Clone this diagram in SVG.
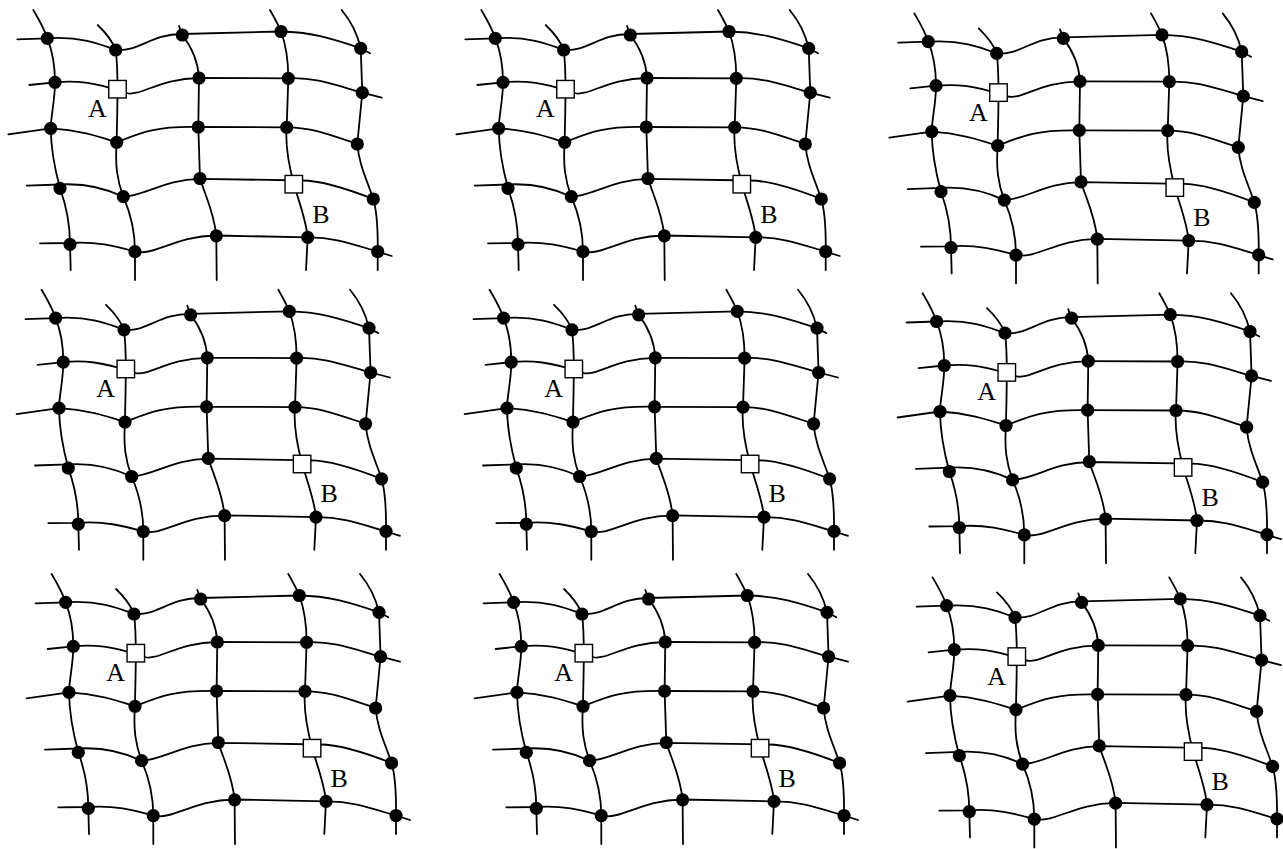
<svg xmlns="http://www.w3.org/2000/svg" width="1283" height="849" viewBox="0 0 1283 849">
<style>
.ln path{fill:none;stroke:#000;stroke-width:1.8;stroke-linecap:round;stroke-linejoin:round}
.dot{fill:#000}
.sq{fill:#fff;stroke:#000;stroke-width:1.4}
.lbl{font-family:"Liberation Serif","Times New Roman",serif;font-size:26px;fill:#000;text-anchor:middle}
</style>
<rect width="1283" height="849" fill="#fff"/>
<g id="p1" transform="translate(0,0)">
<g id="p1-connectors" class="ln">
<path d="M17.3,39.3 L47.3,38.3 C80,36 100,44 115.7,50 C140,52 150,34 182.3,34 L281,31.5 C310,32 330,38 360.7,48.3 L370,53.3"/>
<path d="M29.3,85 L55,82.3 C80,80 95,84 108.5,87.5 L126.5,93 C140,97 160,78 199,78 L288.3,78.3 C315,77 335,85 362.3,92.7 L381.7,97.7"/>
<path d="M8.3,134.3 L50.7,128.3 C80,130 100,137 116.7,142.3 C140,133 155,126 198.3,127 L286.7,127.3 C310,127 330,135 357.3,144"/>
<path d="M26.7,185.7 L60,184.5 C85,183 105,188 123.3,196.7 C145,196 165,179 200,178.8 L302.5,180.5 C320,180.5 345,188 373.3,199"/>
<path d="M40,243.3 L70,243 C95,241 115,246 135,251.7 C155,256 175,236 216,235.5 L307.7,237.3 C335,237 355,245 377.7,251.7 L391.7,256"/>
<path d="M33.3,10 C38,18 44,28 47.3,38.3 C52,50 55,62 55,82.3 C55,100 51,115 50.7,128.3 C51,150 55,170 60,188.3 C66,205 70,225 70,244.3 L70.7,270"/>
<path d="M97.7,25 C105,32 112,40 115.7,50 C117,60 117.5,70 117.5,89 C117.5,115 116.7,130 116.7,142.3 C115,165 117,180 123.3,196.7 C130,212 135,230 135,251.7 L135,280"/>
<path d="M179,26 L182.3,35 C190,45 198,60 199,78 L198.3,127 L200,178.5 C205,195 214,212 216.3,235.8 L216.7,280"/>
<path d="M270,10 C274,17 278,24 281,31.5 C286,45 288.3,60 288.3,78.3 L286.7,127.3 C285,145 288,162 293.8,184 C300,205 306,220 307.7,237.3 L306,270"/>
<path d="M341.7,10 C350,20 357,32 360.7,48.3 L362.3,92.7 L357.3,144 C359,165 367,180 373.3,199 C377,212 378,230 377.7,251.5 L377.7,270"/>
</g>
<g id="p1-n11"><circle class="dot" cx="47.3" cy="38.3" r="6.6"/></g>
<g id="p1-n12"><circle class="dot" cx="115.7" cy="50" r="6.6"/></g>
<g id="p1-n13"><circle class="dot" cx="182.3" cy="35" r="6.6"/></g>
<g id="p1-n14"><circle class="dot" cx="281" cy="31.5" r="6.6"/></g>
<g id="p1-n15"><circle class="dot" cx="360.7" cy="48.3" r="6.6"/></g>
<g id="p1-n21"><circle class="dot" cx="55" cy="82.3" r="6.6"/></g>
<g id="p1-A"><rect class="sq" x="108.75" y="80.45" width="17.5" height="17.5"/><text class="lbl" x="97.3" y="117.3">A</text></g>
<g id="p1-n23"><circle class="dot" cx="199" cy="78" r="6.6"/></g>
<g id="p1-n24"><circle class="dot" cx="288.3" cy="78.3" r="6.6"/></g>
<g id="p1-n25"><circle class="dot" cx="362.3" cy="92.7" r="6.6"/></g>
<g id="p1-n31"><circle class="dot" cx="50.7" cy="128.3" r="6.6"/></g>
<g id="p1-n32"><circle class="dot" cx="116.7" cy="142.3" r="6.6"/></g>
<g id="p1-n33"><circle class="dot" cx="198.3" cy="127" r="6.6"/></g>
<g id="p1-n34"><circle class="dot" cx="286.7" cy="127.3" r="6.6"/></g>
<g id="p1-n35"><circle class="dot" cx="357.3" cy="144" r="6.6"/></g>
<g id="p1-n41"><circle class="dot" cx="60" cy="188.3" r="6.6"/></g>
<g id="p1-n42"><circle class="dot" cx="123.3" cy="196.7" r="6.6"/></g>
<g id="p1-n43"><circle class="dot" cx="200" cy="178.5" r="6.6"/></g>
<g id="p1-B"><rect class="sq" x="285.05" y="175.45" width="17.5" height="17.5"/><text class="lbl" x="320.8" y="222.7">B</text></g>
<g id="p1-n45"><circle class="dot" cx="373.3" cy="199" r="6.6"/></g>
<g id="p1-n51"><circle class="dot" cx="70" cy="244.3" r="6.6"/></g>
<g id="p1-n52"><circle class="dot" cx="135" cy="251.7" r="6.6"/></g>
<g id="p1-n53"><circle class="dot" cx="216.3" cy="235.8" r="6.6"/></g>
<g id="p1-n54"><circle class="dot" cx="307.7" cy="237.3" r="6.6"/></g>
<g id="p1-n55"><circle class="dot" cx="377.7" cy="251.5" r="6.6"/></g>
</g>
<g id="p2" transform="translate(448,0)">
<g id="p2-connectors" class="ln">
<path d="M17.3,39.3 L47.3,38.3 C80,36 100,44 115.7,50 C140,52 150,34 182.3,34 L281,31.5 C310,32 330,38 360.7,48.3 L370,53.3"/>
<path d="M29.3,85 L55,82.3 C80,80 95,84 108.5,87.5 L126.5,93 C140,97 160,78 199,78 L288.3,78.3 C315,77 335,85 362.3,92.7 L381.7,97.7"/>
<path d="M8.3,134.3 L50.7,128.3 C80,130 100,137 116.7,142.3 C140,133 155,126 198.3,127 L286.7,127.3 C310,127 330,135 357.3,144"/>
<path d="M26.7,185.7 L60,184.5 C85,183 105,188 123.3,196.7 C145,196 165,179 200,178.8 L302.5,180.5 C320,180.5 345,188 373.3,199"/>
<path d="M40,243.3 L70,243 C95,241 115,246 135,251.7 C155,256 175,236 216,235.5 L307.7,237.3 C335,237 355,245 377.7,251.7 L391.7,256"/>
<path d="M33.3,10 C38,18 44,28 47.3,38.3 C52,50 55,62 55,82.3 C55,100 51,115 50.7,128.3 C51,150 55,170 60,188.3 C66,205 70,225 70,244.3 L70.7,270"/>
<path d="M97.7,25 C105,32 112,40 115.7,50 C117,60 117.5,70 117.5,89 C117.5,115 116.7,130 116.7,142.3 C115,165 117,180 123.3,196.7 C130,212 135,230 135,251.7 L135,280"/>
<path d="M179,26 L182.3,35 C190,45 198,60 199,78 L198.3,127 L200,178.5 C205,195 214,212 216.3,235.8 L216.7,280"/>
<path d="M270,10 C274,17 278,24 281,31.5 C286,45 288.3,60 288.3,78.3 L286.7,127.3 C285,145 288,162 293.8,184 C300,205 306,220 307.7,237.3 L306,270"/>
<path d="M341.7,10 C350,20 357,32 360.7,48.3 L362.3,92.7 L357.3,144 C359,165 367,180 373.3,199 C377,212 378,230 377.7,251.5 L377.7,270"/>
</g>
<g id="p2-n11"><circle class="dot" cx="47.3" cy="38.3" r="6.6"/></g>
<g id="p2-n12"><circle class="dot" cx="115.7" cy="50" r="6.6"/></g>
<g id="p2-n13"><circle class="dot" cx="182.3" cy="35" r="6.6"/></g>
<g id="p2-n14"><circle class="dot" cx="281" cy="31.5" r="6.6"/></g>
<g id="p2-n15"><circle class="dot" cx="360.7" cy="48.3" r="6.6"/></g>
<g id="p2-n21"><circle class="dot" cx="55" cy="82.3" r="6.6"/></g>
<g id="p2-A"><rect class="sq" x="108.75" y="80.45" width="17.5" height="17.5"/><text class="lbl" x="97.3" y="117.3">A</text></g>
<g id="p2-n23"><circle class="dot" cx="199" cy="78" r="6.6"/></g>
<g id="p2-n24"><circle class="dot" cx="288.3" cy="78.3" r="6.6"/></g>
<g id="p2-n25"><circle class="dot" cx="362.3" cy="92.7" r="6.6"/></g>
<g id="p2-n31"><circle class="dot" cx="50.7" cy="128.3" r="6.6"/></g>
<g id="p2-n32"><circle class="dot" cx="116.7" cy="142.3" r="6.6"/></g>
<g id="p2-n33"><circle class="dot" cx="198.3" cy="127" r="6.6"/></g>
<g id="p2-n34"><circle class="dot" cx="286.7" cy="127.3" r="6.6"/></g>
<g id="p2-n35"><circle class="dot" cx="357.3" cy="144" r="6.6"/></g>
<g id="p2-n41"><circle class="dot" cx="60" cy="188.3" r="6.6"/></g>
<g id="p2-n42"><circle class="dot" cx="123.3" cy="196.7" r="6.6"/></g>
<g id="p2-n43"><circle class="dot" cx="200" cy="178.5" r="6.6"/></g>
<g id="p2-B"><rect class="sq" x="285.05" y="175.45" width="17.5" height="17.5"/><text class="lbl" x="320.8" y="222.7">B</text></g>
<g id="p2-n45"><circle class="dot" cx="373.3" cy="199" r="6.6"/></g>
<g id="p2-n51"><circle class="dot" cx="70" cy="244.3" r="6.6"/></g>
<g id="p2-n52"><circle class="dot" cx="135" cy="251.7" r="6.6"/></g>
<g id="p2-n53"><circle class="dot" cx="216.3" cy="235.8" r="6.6"/></g>
<g id="p2-n54"><circle class="dot" cx="307.7" cy="237.3" r="6.6"/></g>
<g id="p2-n55"><circle class="dot" cx="377.7" cy="251.5" r="6.6"/></g>
</g>
<g id="p3" transform="translate(881,3.4)">
<g id="p3-connectors" class="ln">
<path d="M17.3,39.3 L47.3,38.3 C80,36 100,44 115.7,50 C140,52 150,34 182.3,34 L281,31.5 C310,32 330,38 360.7,48.3 L370,53.3"/>
<path d="M29.3,85 L55,82.3 C80,80 95,84 108.5,87.5 L126.5,93 C140,97 160,78 199,78 L288.3,78.3 C315,77 335,85 362.3,92.7 L381.7,97.7"/>
<path d="M8.3,134.3 L50.7,128.3 C80,130 100,137 116.7,142.3 C140,133 155,126 198.3,127 L286.7,127.3 C310,127 330,135 357.3,144"/>
<path d="M26.7,185.7 L60,184.5 C85,183 105,188 123.3,196.7 C145,196 165,179 200,178.8 L302.5,180.5 C320,180.5 345,188 373.3,199"/>
<path d="M40,243.3 L70,243 C95,241 115,246 135,251.7 C155,256 175,236 216,235.5 L307.7,237.3 C335,237 355,245 377.7,251.7 L391.7,256"/>
<path d="M33.3,10 C38,18 44,28 47.3,38.3 C52,50 55,62 55,82.3 C55,100 51,115 50.7,128.3 C51,150 55,170 60,188.3 C66,205 70,225 70,244.3 L70.7,270"/>
<path d="M97.7,25 C105,32 112,40 115.7,50 C117,60 117.5,70 117.5,89 C117.5,115 116.7,130 116.7,142.3 C115,165 117,180 123.3,196.7 C130,212 135,230 135,251.7 L135,280"/>
<path d="M179,26 L182.3,35 C190,45 198,60 199,78 L198.3,127 L200,178.5 C205,195 214,212 216.3,235.8 L216.7,280"/>
<path d="M270,10 C274,17 278,24 281,31.5 C286,45 288.3,60 288.3,78.3 L286.7,127.3 C285,145 288,162 293.8,184 C300,205 306,220 307.7,237.3 L306,270"/>
<path d="M341.7,10 C350,20 357,32 360.7,48.3 L362.3,92.7 L357.3,144 C359,165 367,180 373.3,199 C377,212 378,230 377.7,251.5 L377.7,270"/>
</g>
<g id="p3-n11"><circle class="dot" cx="47.3" cy="38.3" r="6.6"/></g>
<g id="p3-n12"><circle class="dot" cx="115.7" cy="50" r="6.6"/></g>
<g id="p3-n13"><circle class="dot" cx="182.3" cy="35" r="6.6"/></g>
<g id="p3-n14"><circle class="dot" cx="281" cy="31.5" r="6.6"/></g>
<g id="p3-n15"><circle class="dot" cx="360.7" cy="48.3" r="6.6"/></g>
<g id="p3-n21"><circle class="dot" cx="55" cy="82.3" r="6.6"/></g>
<g id="p3-A"><rect class="sq" x="108.75" y="80.45" width="17.5" height="17.5"/><text class="lbl" x="97.3" y="117.3">A</text></g>
<g id="p3-n23"><circle class="dot" cx="199" cy="78" r="6.6"/></g>
<g id="p3-n24"><circle class="dot" cx="288.3" cy="78.3" r="6.6"/></g>
<g id="p3-n25"><circle class="dot" cx="362.3" cy="92.7" r="6.6"/></g>
<g id="p3-n31"><circle class="dot" cx="50.7" cy="128.3" r="6.6"/></g>
<g id="p3-n32"><circle class="dot" cx="116.7" cy="142.3" r="6.6"/></g>
<g id="p3-n33"><circle class="dot" cx="198.3" cy="127" r="6.6"/></g>
<g id="p3-n34"><circle class="dot" cx="286.7" cy="127.3" r="6.6"/></g>
<g id="p3-n35"><circle class="dot" cx="357.3" cy="144" r="6.6"/></g>
<g id="p3-n41"><circle class="dot" cx="60" cy="188.3" r="6.6"/></g>
<g id="p3-n42"><circle class="dot" cx="123.3" cy="196.7" r="6.6"/></g>
<g id="p3-n43"><circle class="dot" cx="200" cy="178.5" r="6.6"/></g>
<g id="p3-B"><rect class="sq" x="285.05" y="175.45" width="17.5" height="17.5"/><text class="lbl" x="320.8" y="222.7">B</text></g>
<g id="p3-n45"><circle class="dot" cx="373.3" cy="199" r="6.6"/></g>
<g id="p3-n51"><circle class="dot" cx="70" cy="244.3" r="6.6"/></g>
<g id="p3-n52"><circle class="dot" cx="135" cy="251.7" r="6.6"/></g>
<g id="p3-n53"><circle class="dot" cx="216.3" cy="235.8" r="6.6"/></g>
<g id="p3-n54"><circle class="dot" cx="307.7" cy="237.3" r="6.6"/></g>
<g id="p3-n55"><circle class="dot" cx="377.7" cy="251.5" r="6.6"/></g>
</g>
<g id="p4" transform="translate(8.3,279.8)">
<g id="p4-connectors" class="ln">
<path d="M17.3,39.3 L47.3,38.3 C80,36 100,44 115.7,50 C140,52 150,34 182.3,34 L281,31.5 C310,32 330,38 360.7,48.3 L370,53.3"/>
<path d="M29.3,85 L55,82.3 C80,80 95,84 108.5,87.5 L126.5,93 C140,97 160,78 199,78 L288.3,78.3 C315,77 335,85 362.3,92.7 L381.7,97.7"/>
<path d="M8.3,134.3 L50.7,128.3 C80,130 100,137 116.7,142.3 C140,133 155,126 198.3,127 L286.7,127.3 C310,127 330,135 357.3,144"/>
<path d="M26.7,185.7 L60,184.5 C85,183 105,188 123.3,196.7 C145,196 165,179 200,178.8 L302.5,180.5 C320,180.5 345,188 373.3,199"/>
<path d="M40,243.3 L70,243 C95,241 115,246 135,251.7 C155,256 175,236 216,235.5 L307.7,237.3 C335,237 355,245 377.7,251.7 L391.7,256"/>
<path d="M33.3,10 C38,18 44,28 47.3,38.3 C52,50 55,62 55,82.3 C55,100 51,115 50.7,128.3 C51,150 55,170 60,188.3 C66,205 70,225 70,244.3 L70.7,270"/>
<path d="M97.7,25 C105,32 112,40 115.7,50 C117,60 117.5,70 117.5,89 C117.5,115 116.7,130 116.7,142.3 C115,165 117,180 123.3,196.7 C130,212 135,230 135,251.7 L135,280"/>
<path d="M179,26 L182.3,35 C190,45 198,60 199,78 L198.3,127 L200,178.5 C205,195 214,212 216.3,235.8 L216.7,280"/>
<path d="M270,10 C274,17 278,24 281,31.5 C286,45 288.3,60 288.3,78.3 L286.7,127.3 C285,145 288,162 293.8,184 C300,205 306,220 307.7,237.3 L306,270"/>
<path d="M341.7,10 C350,20 357,32 360.7,48.3 L362.3,92.7 L357.3,144 C359,165 367,180 373.3,199 C377,212 378,230 377.7,251.5 L377.7,270"/>
</g>
<g id="p4-n11"><circle class="dot" cx="47.3" cy="38.3" r="6.6"/></g>
<g id="p4-n12"><circle class="dot" cx="115.7" cy="50" r="6.6"/></g>
<g id="p4-n13"><circle class="dot" cx="182.3" cy="35" r="6.6"/></g>
<g id="p4-n14"><circle class="dot" cx="281" cy="31.5" r="6.6"/></g>
<g id="p4-n15"><circle class="dot" cx="360.7" cy="48.3" r="6.6"/></g>
<g id="p4-n21"><circle class="dot" cx="55" cy="82.3" r="6.6"/></g>
<g id="p4-A"><rect class="sq" x="108.75" y="80.45" width="17.5" height="17.5"/><text class="lbl" x="97.3" y="117.3">A</text></g>
<g id="p4-n23"><circle class="dot" cx="199" cy="78" r="6.6"/></g>
<g id="p4-n24"><circle class="dot" cx="288.3" cy="78.3" r="6.6"/></g>
<g id="p4-n25"><circle class="dot" cx="362.3" cy="92.7" r="6.6"/></g>
<g id="p4-n31"><circle class="dot" cx="50.7" cy="128.3" r="6.6"/></g>
<g id="p4-n32"><circle class="dot" cx="116.7" cy="142.3" r="6.6"/></g>
<g id="p4-n33"><circle class="dot" cx="198.3" cy="127" r="6.6"/></g>
<g id="p4-n34"><circle class="dot" cx="286.7" cy="127.3" r="6.6"/></g>
<g id="p4-n35"><circle class="dot" cx="357.3" cy="144" r="6.6"/></g>
<g id="p4-n41"><circle class="dot" cx="60" cy="188.3" r="6.6"/></g>
<g id="p4-n42"><circle class="dot" cx="123.3" cy="196.7" r="6.6"/></g>
<g id="p4-n43"><circle class="dot" cx="200" cy="178.5" r="6.6"/></g>
<g id="p4-B"><rect class="sq" x="285.05" y="175.45" width="17.5" height="17.5"/><text class="lbl" x="320.8" y="222.7">B</text></g>
<g id="p4-n45"><circle class="dot" cx="373.3" cy="199" r="6.6"/></g>
<g id="p4-n51"><circle class="dot" cx="70" cy="244.3" r="6.6"/></g>
<g id="p4-n52"><circle class="dot" cx="135" cy="251.7" r="6.6"/></g>
<g id="p4-n53"><circle class="dot" cx="216.3" cy="235.8" r="6.6"/></g>
<g id="p4-n54"><circle class="dot" cx="307.7" cy="237.3" r="6.6"/></g>
<g id="p4-n55"><circle class="dot" cx="377.7" cy="251.5" r="6.6"/></g>
</g>
<g id="p5" transform="translate(456.3,279.8)">
<g id="p5-connectors" class="ln">
<path d="M17.3,39.3 L47.3,38.3 C80,36 100,44 115.7,50 C140,52 150,34 182.3,34 L281,31.5 C310,32 330,38 360.7,48.3 L370,53.3"/>
<path d="M29.3,85 L55,82.3 C80,80 95,84 108.5,87.5 L126.5,93 C140,97 160,78 199,78 L288.3,78.3 C315,77 335,85 362.3,92.7 L381.7,97.7"/>
<path d="M8.3,134.3 L50.7,128.3 C80,130 100,137 116.7,142.3 C140,133 155,126 198.3,127 L286.7,127.3 C310,127 330,135 357.3,144"/>
<path d="M26.7,185.7 L60,184.5 C85,183 105,188 123.3,196.7 C145,196 165,179 200,178.8 L302.5,180.5 C320,180.5 345,188 373.3,199"/>
<path d="M40,243.3 L70,243 C95,241 115,246 135,251.7 C155,256 175,236 216,235.5 L307.7,237.3 C335,237 355,245 377.7,251.7 L391.7,256"/>
<path d="M33.3,10 C38,18 44,28 47.3,38.3 C52,50 55,62 55,82.3 C55,100 51,115 50.7,128.3 C51,150 55,170 60,188.3 C66,205 70,225 70,244.3 L70.7,270"/>
<path d="M97.7,25 C105,32 112,40 115.7,50 C117,60 117.5,70 117.5,89 C117.5,115 116.7,130 116.7,142.3 C115,165 117,180 123.3,196.7 C130,212 135,230 135,251.7 L135,280"/>
<path d="M179,26 L182.3,35 C190,45 198,60 199,78 L198.3,127 L200,178.5 C205,195 214,212 216.3,235.8 L216.7,280"/>
<path d="M270,10 C274,17 278,24 281,31.5 C286,45 288.3,60 288.3,78.3 L286.7,127.3 C285,145 288,162 293.8,184 C300,205 306,220 307.7,237.3 L306,270"/>
<path d="M341.7,10 C350,20 357,32 360.7,48.3 L362.3,92.7 L357.3,144 C359,165 367,180 373.3,199 C377,212 378,230 377.7,251.5 L377.7,270"/>
</g>
<g id="p5-n11"><circle class="dot" cx="47.3" cy="38.3" r="6.6"/></g>
<g id="p5-n12"><circle class="dot" cx="115.7" cy="50" r="6.6"/></g>
<g id="p5-n13"><circle class="dot" cx="182.3" cy="35" r="6.6"/></g>
<g id="p5-n14"><circle class="dot" cx="281" cy="31.5" r="6.6"/></g>
<g id="p5-n15"><circle class="dot" cx="360.7" cy="48.3" r="6.6"/></g>
<g id="p5-n21"><circle class="dot" cx="55" cy="82.3" r="6.6"/></g>
<g id="p5-A"><rect class="sq" x="108.75" y="80.45" width="17.5" height="17.5"/><text class="lbl" x="97.3" y="117.3">A</text></g>
<g id="p5-n23"><circle class="dot" cx="199" cy="78" r="6.6"/></g>
<g id="p5-n24"><circle class="dot" cx="288.3" cy="78.3" r="6.6"/></g>
<g id="p5-n25"><circle class="dot" cx="362.3" cy="92.7" r="6.6"/></g>
<g id="p5-n31"><circle class="dot" cx="50.7" cy="128.3" r="6.6"/></g>
<g id="p5-n32"><circle class="dot" cx="116.7" cy="142.3" r="6.6"/></g>
<g id="p5-n33"><circle class="dot" cx="198.3" cy="127" r="6.6"/></g>
<g id="p5-n34"><circle class="dot" cx="286.7" cy="127.3" r="6.6"/></g>
<g id="p5-n35"><circle class="dot" cx="357.3" cy="144" r="6.6"/></g>
<g id="p5-n41"><circle class="dot" cx="60" cy="188.3" r="6.6"/></g>
<g id="p5-n42"><circle class="dot" cx="123.3" cy="196.7" r="6.6"/></g>
<g id="p5-n43"><circle class="dot" cx="200" cy="178.5" r="6.6"/></g>
<g id="p5-B"><rect class="sq" x="285.05" y="175.45" width="17.5" height="17.5"/><text class="lbl" x="320.8" y="222.7">B</text></g>
<g id="p5-n45"><circle class="dot" cx="373.3" cy="199" r="6.6"/></g>
<g id="p5-n51"><circle class="dot" cx="70" cy="244.3" r="6.6"/></g>
<g id="p5-n52"><circle class="dot" cx="135" cy="251.7" r="6.6"/></g>
<g id="p5-n53"><circle class="dot" cx="216.3" cy="235.8" r="6.6"/></g>
<g id="p5-n54"><circle class="dot" cx="307.7" cy="237.3" r="6.6"/></g>
<g id="p5-n55"><circle class="dot" cx="377.7" cy="251.5" r="6.6"/></g>
</g>
<g id="p6" transform="translate(889.3,283.2)">
<g id="p6-connectors" class="ln">
<path d="M17.3,39.3 L47.3,38.3 C80,36 100,44 115.7,50 C140,52 150,34 182.3,34 L281,31.5 C310,32 330,38 360.7,48.3 L370,53.3"/>
<path d="M29.3,85 L55,82.3 C80,80 95,84 108.5,87.5 L126.5,93 C140,97 160,78 199,78 L288.3,78.3 C315,77 335,85 362.3,92.7 L381.7,97.7"/>
<path d="M8.3,134.3 L50.7,128.3 C80,130 100,137 116.7,142.3 C140,133 155,126 198.3,127 L286.7,127.3 C310,127 330,135 357.3,144"/>
<path d="M26.7,185.7 L60,184.5 C85,183 105,188 123.3,196.7 C145,196 165,179 200,178.8 L302.5,180.5 C320,180.5 345,188 373.3,199"/>
<path d="M40,243.3 L70,243 C95,241 115,246 135,251.7 C155,256 175,236 216,235.5 L307.7,237.3 C335,237 355,245 377.7,251.7 L391.7,256"/>
<path d="M33.3,10 C38,18 44,28 47.3,38.3 C52,50 55,62 55,82.3 C55,100 51,115 50.7,128.3 C51,150 55,170 60,188.3 C66,205 70,225 70,244.3 L70.7,270"/>
<path d="M97.7,25 C105,32 112,40 115.7,50 C117,60 117.5,70 117.5,89 C117.5,115 116.7,130 116.7,142.3 C115,165 117,180 123.3,196.7 C130,212 135,230 135,251.7 L135,280"/>
<path d="M179,26 L182.3,35 C190,45 198,60 199,78 L198.3,127 L200,178.5 C205,195 214,212 216.3,235.8 L216.7,280"/>
<path d="M270,10 C274,17 278,24 281,31.5 C286,45 288.3,60 288.3,78.3 L286.7,127.3 C285,145 288,162 293.8,184 C300,205 306,220 307.7,237.3 L306,270"/>
<path d="M341.7,10 C350,20 357,32 360.7,48.3 L362.3,92.7 L357.3,144 C359,165 367,180 373.3,199 C377,212 378,230 377.7,251.5 L377.7,270"/>
</g>
<g id="p6-n11"><circle class="dot" cx="47.3" cy="38.3" r="6.6"/></g>
<g id="p6-n12"><circle class="dot" cx="115.7" cy="50" r="6.6"/></g>
<g id="p6-n13"><circle class="dot" cx="182.3" cy="35" r="6.6"/></g>
<g id="p6-n14"><circle class="dot" cx="281" cy="31.5" r="6.6"/></g>
<g id="p6-n15"><circle class="dot" cx="360.7" cy="48.3" r="6.6"/></g>
<g id="p6-n21"><circle class="dot" cx="55" cy="82.3" r="6.6"/></g>
<g id="p6-A"><rect class="sq" x="108.75" y="80.45" width="17.5" height="17.5"/><text class="lbl" x="97.3" y="117.3">A</text></g>
<g id="p6-n23"><circle class="dot" cx="199" cy="78" r="6.6"/></g>
<g id="p6-n24"><circle class="dot" cx="288.3" cy="78.3" r="6.6"/></g>
<g id="p6-n25"><circle class="dot" cx="362.3" cy="92.7" r="6.6"/></g>
<g id="p6-n31"><circle class="dot" cx="50.7" cy="128.3" r="6.6"/></g>
<g id="p6-n32"><circle class="dot" cx="116.7" cy="142.3" r="6.6"/></g>
<g id="p6-n33"><circle class="dot" cx="198.3" cy="127" r="6.6"/></g>
<g id="p6-n34"><circle class="dot" cx="286.7" cy="127.3" r="6.6"/></g>
<g id="p6-n35"><circle class="dot" cx="357.3" cy="144" r="6.6"/></g>
<g id="p6-n41"><circle class="dot" cx="60" cy="188.3" r="6.6"/></g>
<g id="p6-n42"><circle class="dot" cx="123.3" cy="196.7" r="6.6"/></g>
<g id="p6-n43"><circle class="dot" cx="200" cy="178.5" r="6.6"/></g>
<g id="p6-B"><rect class="sq" x="285.05" y="175.45" width="17.5" height="17.5"/><text class="lbl" x="320.8" y="222.7">B</text></g>
<g id="p6-n45"><circle class="dot" cx="373.3" cy="199" r="6.6"/></g>
<g id="p6-n51"><circle class="dot" cx="70" cy="244.3" r="6.6"/></g>
<g id="p6-n52"><circle class="dot" cx="135" cy="251.7" r="6.6"/></g>
<g id="p6-n53"><circle class="dot" cx="216.3" cy="235.8" r="6.6"/></g>
<g id="p6-n54"><circle class="dot" cx="307.7" cy="237.3" r="6.6"/></g>
<g id="p6-n55"><circle class="dot" cx="377.7" cy="251.5" r="6.6"/></g>
</g>
<g id="p7" transform="translate(18.3,564)">
<g id="p7-connectors" class="ln">
<path d="M17.3,39.3 L47.3,38.3 C80,36 100,44 115.7,50 C140,52 150,34 182.3,34 L281,31.5 C310,32 330,38 360.7,48.3 L370,53.3"/>
<path d="M29.3,85 L55,82.3 C80,80 95,84 108.5,87.5 L126.5,93 C140,97 160,78 199,78 L288.3,78.3 C315,77 335,85 362.3,92.7 L381.7,97.7"/>
<path d="M8.3,134.3 L50.7,128.3 C80,130 100,137 116.7,142.3 C140,133 155,126 198.3,127 L286.7,127.3 C310,127 330,135 357.3,144"/>
<path d="M26.7,185.7 L60,184.5 C85,183 105,188 123.3,196.7 C145,196 165,179 200,178.8 L302.5,180.5 C320,180.5 345,188 373.3,199"/>
<path d="M40,243.3 L70,243 C95,241 115,246 135,251.7 C155,256 175,236 216,235.5 L307.7,237.3 C335,237 355,245 377.7,251.7 L391.7,256"/>
<path d="M33.3,10 C38,18 44,28 47.3,38.3 C52,50 55,62 55,82.3 C55,100 51,115 50.7,128.3 C51,150 55,170 60,188.3 C66,205 70,225 70,244.3 L70.7,270"/>
<path d="M97.7,25 C105,32 112,40 115.7,50 C117,60 117.5,70 117.5,89 C117.5,115 116.7,130 116.7,142.3 C115,165 117,180 123.3,196.7 C130,212 135,230 135,251.7 L135,280"/>
<path d="M179,26 L182.3,35 C190,45 198,60 199,78 L198.3,127 L200,178.5 C205,195 214,212 216.3,235.8 L216.7,280"/>
<path d="M270,10 C274,17 278,24 281,31.5 C286,45 288.3,60 288.3,78.3 L286.7,127.3 C285,145 288,162 293.8,184 C300,205 306,220 307.7,237.3 L306,270"/>
<path d="M341.7,10 C350,20 357,32 360.7,48.3 L362.3,92.7 L357.3,144 C359,165 367,180 373.3,199 C377,212 378,230 377.7,251.5 L377.7,270"/>
</g>
<g id="p7-n11"><circle class="dot" cx="47.3" cy="38.3" r="6.6"/></g>
<g id="p7-n12"><circle class="dot" cx="115.7" cy="50" r="6.6"/></g>
<g id="p7-n13"><circle class="dot" cx="182.3" cy="35" r="6.6"/></g>
<g id="p7-n14"><circle class="dot" cx="281" cy="31.5" r="6.6"/></g>
<g id="p7-n15"><circle class="dot" cx="360.7" cy="48.3" r="6.6"/></g>
<g id="p7-n21"><circle class="dot" cx="55" cy="82.3" r="6.6"/></g>
<g id="p7-A"><rect class="sq" x="108.75" y="80.45" width="17.5" height="17.5"/><text class="lbl" x="97.3" y="117.3">A</text></g>
<g id="p7-n23"><circle class="dot" cx="199" cy="78" r="6.6"/></g>
<g id="p7-n24"><circle class="dot" cx="288.3" cy="78.3" r="6.6"/></g>
<g id="p7-n25"><circle class="dot" cx="362.3" cy="92.7" r="6.6"/></g>
<g id="p7-n31"><circle class="dot" cx="50.7" cy="128.3" r="6.6"/></g>
<g id="p7-n32"><circle class="dot" cx="116.7" cy="142.3" r="6.6"/></g>
<g id="p7-n33"><circle class="dot" cx="198.3" cy="127" r="6.6"/></g>
<g id="p7-n34"><circle class="dot" cx="286.7" cy="127.3" r="6.6"/></g>
<g id="p7-n35"><circle class="dot" cx="357.3" cy="144" r="6.6"/></g>
<g id="p7-n41"><circle class="dot" cx="60" cy="188.3" r="6.6"/></g>
<g id="p7-n42"><circle class="dot" cx="123.3" cy="196.7" r="6.6"/></g>
<g id="p7-n43"><circle class="dot" cx="200" cy="178.5" r="6.6"/></g>
<g id="p7-B"><rect class="sq" x="285.05" y="175.45" width="17.5" height="17.5"/><text class="lbl" x="320.8" y="222.7">B</text></g>
<g id="p7-n45"><circle class="dot" cx="373.3" cy="199" r="6.6"/></g>
<g id="p7-n51"><circle class="dot" cx="70" cy="244.3" r="6.6"/></g>
<g id="p7-n52"><circle class="dot" cx="135" cy="251.7" r="6.6"/></g>
<g id="p7-n53"><circle class="dot" cx="216.3" cy="235.8" r="6.6"/></g>
<g id="p7-n54"><circle class="dot" cx="307.7" cy="237.3" r="6.6"/></g>
<g id="p7-n55"><circle class="dot" cx="377.7" cy="251.5" r="6.6"/></g>
</g>
<g id="p8" transform="translate(466.3,564)">
<g id="p8-connectors" class="ln">
<path d="M17.3,39.3 L47.3,38.3 C80,36 100,44 115.7,50 C140,52 150,34 182.3,34 L281,31.5 C310,32 330,38 360.7,48.3 L370,53.3"/>
<path d="M29.3,85 L55,82.3 C80,80 95,84 108.5,87.5 L126.5,93 C140,97 160,78 199,78 L288.3,78.3 C315,77 335,85 362.3,92.7 L381.7,97.7"/>
<path d="M8.3,134.3 L50.7,128.3 C80,130 100,137 116.7,142.3 C140,133 155,126 198.3,127 L286.7,127.3 C310,127 330,135 357.3,144"/>
<path d="M26.7,185.7 L60,184.5 C85,183 105,188 123.3,196.7 C145,196 165,179 200,178.8 L302.5,180.5 C320,180.5 345,188 373.3,199"/>
<path d="M40,243.3 L70,243 C95,241 115,246 135,251.7 C155,256 175,236 216,235.5 L307.7,237.3 C335,237 355,245 377.7,251.7 L391.7,256"/>
<path d="M33.3,10 C38,18 44,28 47.3,38.3 C52,50 55,62 55,82.3 C55,100 51,115 50.7,128.3 C51,150 55,170 60,188.3 C66,205 70,225 70,244.3 L70.7,270"/>
<path d="M97.7,25 C105,32 112,40 115.7,50 C117,60 117.5,70 117.5,89 C117.5,115 116.7,130 116.7,142.3 C115,165 117,180 123.3,196.7 C130,212 135,230 135,251.7 L135,280"/>
<path d="M179,26 L182.3,35 C190,45 198,60 199,78 L198.3,127 L200,178.5 C205,195 214,212 216.3,235.8 L216.7,280"/>
<path d="M270,10 C274,17 278,24 281,31.5 C286,45 288.3,60 288.3,78.3 L286.7,127.3 C285,145 288,162 293.8,184 C300,205 306,220 307.7,237.3 L306,270"/>
<path d="M341.7,10 C350,20 357,32 360.7,48.3 L362.3,92.7 L357.3,144 C359,165 367,180 373.3,199 C377,212 378,230 377.7,251.5 L377.7,270"/>
</g>
<g id="p8-n11"><circle class="dot" cx="47.3" cy="38.3" r="6.6"/></g>
<g id="p8-n12"><circle class="dot" cx="115.7" cy="50" r="6.6"/></g>
<g id="p8-n13"><circle class="dot" cx="182.3" cy="35" r="6.6"/></g>
<g id="p8-n14"><circle class="dot" cx="281" cy="31.5" r="6.6"/></g>
<g id="p8-n15"><circle class="dot" cx="360.7" cy="48.3" r="6.6"/></g>
<g id="p8-n21"><circle class="dot" cx="55" cy="82.3" r="6.6"/></g>
<g id="p8-A"><rect class="sq" x="108.75" y="80.45" width="17.5" height="17.5"/><text class="lbl" x="97.3" y="117.3">A</text></g>
<g id="p8-n23"><circle class="dot" cx="199" cy="78" r="6.6"/></g>
<g id="p8-n24"><circle class="dot" cx="288.3" cy="78.3" r="6.6"/></g>
<g id="p8-n25"><circle class="dot" cx="362.3" cy="92.7" r="6.6"/></g>
<g id="p8-n31"><circle class="dot" cx="50.7" cy="128.3" r="6.6"/></g>
<g id="p8-n32"><circle class="dot" cx="116.7" cy="142.3" r="6.6"/></g>
<g id="p8-n33"><circle class="dot" cx="198.3" cy="127" r="6.6"/></g>
<g id="p8-n34"><circle class="dot" cx="286.7" cy="127.3" r="6.6"/></g>
<g id="p8-n35"><circle class="dot" cx="357.3" cy="144" r="6.6"/></g>
<g id="p8-n41"><circle class="dot" cx="60" cy="188.3" r="6.6"/></g>
<g id="p8-n42"><circle class="dot" cx="123.3" cy="196.7" r="6.6"/></g>
<g id="p8-n43"><circle class="dot" cx="200" cy="178.5" r="6.6"/></g>
<g id="p8-B"><rect class="sq" x="285.05" y="175.45" width="17.5" height="17.5"/><text class="lbl" x="320.8" y="222.7">B</text></g>
<g id="p8-n45"><circle class="dot" cx="373.3" cy="199" r="6.6"/></g>
<g id="p8-n51"><circle class="dot" cx="70" cy="244.3" r="6.6"/></g>
<g id="p8-n52"><circle class="dot" cx="135" cy="251.7" r="6.6"/></g>
<g id="p8-n53"><circle class="dot" cx="216.3" cy="235.8" r="6.6"/></g>
<g id="p8-n54"><circle class="dot" cx="307.7" cy="237.3" r="6.6"/></g>
<g id="p8-n55"><circle class="dot" cx="377.7" cy="251.5" r="6.6"/></g>
</g>
<g id="p9" transform="translate(899.3,567.4)">
<g id="p9-connectors" class="ln">
<path d="M17.3,39.3 L47.3,38.3 C80,36 100,44 115.7,50 C140,52 150,34 182.3,34 L281,31.5 C310,32 330,38 360.7,48.3 L370,53.3"/>
<path d="M29.3,85 L55,82.3 C80,80 95,84 108.5,87.5 L126.5,93 C140,97 160,78 199,78 L288.3,78.3 C315,77 335,85 362.3,92.7 L381.7,97.7"/>
<path d="M8.3,134.3 L50.7,128.3 C80,130 100,137 116.7,142.3 C140,133 155,126 198.3,127 L286.7,127.3 C310,127 330,135 357.3,144"/>
<path d="M26.7,185.7 L60,184.5 C85,183 105,188 123.3,196.7 C145,196 165,179 200,178.8 L302.5,180.5 C320,180.5 345,188 373.3,199"/>
<path d="M40,243.3 L70,243 C95,241 115,246 135,251.7 C155,256 175,236 216,235.5 L307.7,237.3 C335,237 355,245 377.7,251.7 L391.7,256"/>
<path d="M33.3,10 C38,18 44,28 47.3,38.3 C52,50 55,62 55,82.3 C55,100 51,115 50.7,128.3 C51,150 55,170 60,188.3 C66,205 70,225 70,244.3 L70.7,270"/>
<path d="M97.7,25 C105,32 112,40 115.7,50 C117,60 117.5,70 117.5,89 C117.5,115 116.7,130 116.7,142.3 C115,165 117,180 123.3,196.7 C130,212 135,230 135,251.7 L135,280"/>
<path d="M179,26 L182.3,35 C190,45 198,60 199,78 L198.3,127 L200,178.5 C205,195 214,212 216.3,235.8 L216.7,280"/>
<path d="M270,10 C274,17 278,24 281,31.5 C286,45 288.3,60 288.3,78.3 L286.7,127.3 C285,145 288,162 293.8,184 C300,205 306,220 307.7,237.3 L306,270"/>
<path d="M341.7,10 C350,20 357,32 360.7,48.3 L362.3,92.7 L357.3,144 C359,165 367,180 373.3,199 C377,212 378,230 377.7,251.5 L377.7,270"/>
</g>
<g id="p9-n11"><circle class="dot" cx="47.3" cy="38.3" r="6.6"/></g>
<g id="p9-n12"><circle class="dot" cx="115.7" cy="50" r="6.6"/></g>
<g id="p9-n13"><circle class="dot" cx="182.3" cy="35" r="6.6"/></g>
<g id="p9-n14"><circle class="dot" cx="281" cy="31.5" r="6.6"/></g>
<g id="p9-n15"><circle class="dot" cx="360.7" cy="48.3" r="6.6"/></g>
<g id="p9-n21"><circle class="dot" cx="55" cy="82.3" r="6.6"/></g>
<g id="p9-A"><rect class="sq" x="108.75" y="80.45" width="17.5" height="17.5"/><text class="lbl" x="97.3" y="117.3">A</text></g>
<g id="p9-n23"><circle class="dot" cx="199" cy="78" r="6.6"/></g>
<g id="p9-n24"><circle class="dot" cx="288.3" cy="78.3" r="6.6"/></g>
<g id="p9-n25"><circle class="dot" cx="362.3" cy="92.7" r="6.6"/></g>
<g id="p9-n31"><circle class="dot" cx="50.7" cy="128.3" r="6.6"/></g>
<g id="p9-n32"><circle class="dot" cx="116.7" cy="142.3" r="6.6"/></g>
<g id="p9-n33"><circle class="dot" cx="198.3" cy="127" r="6.6"/></g>
<g id="p9-n34"><circle class="dot" cx="286.7" cy="127.3" r="6.6"/></g>
<g id="p9-n35"><circle class="dot" cx="357.3" cy="144" r="6.6"/></g>
<g id="p9-n41"><circle class="dot" cx="60" cy="188.3" r="6.6"/></g>
<g id="p9-n42"><circle class="dot" cx="123.3" cy="196.7" r="6.6"/></g>
<g id="p9-n43"><circle class="dot" cx="200" cy="178.5" r="6.6"/></g>
<g id="p9-B"><rect class="sq" x="285.05" y="175.45" width="17.5" height="17.5"/><text class="lbl" x="320.8" y="222.7">B</text></g>
<g id="p9-n45"><circle class="dot" cx="373.3" cy="199" r="6.6"/></g>
<g id="p9-n51"><circle class="dot" cx="70" cy="244.3" r="6.6"/></g>
<g id="p9-n52"><circle class="dot" cx="135" cy="251.7" r="6.6"/></g>
<g id="p9-n53"><circle class="dot" cx="216.3" cy="235.8" r="6.6"/></g>
<g id="p9-n54"><circle class="dot" cx="307.7" cy="237.3" r="6.6"/></g>
<g id="p9-n55"><circle class="dot" cx="377.7" cy="251.5" r="6.6"/></g>
</g>
</svg>
